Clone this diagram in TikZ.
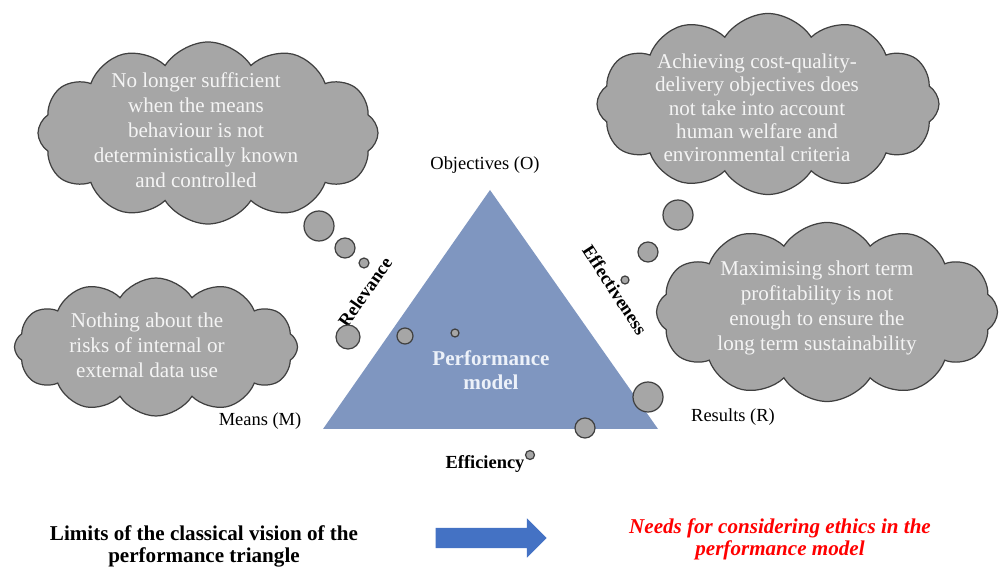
\documentclass[tikz,border=0pt]{standalone}
\usepackage{fontspec}
\setmainfont{Liberation Serif}
\usetikzlibrary{shapes.symbols,shapes.arrows}
\definecolor{cloudgray}{RGB}{166,166,166}
\definecolor{cloudline}{RGB}{64,64,64}
\definecolor{cloudtext}{RGB}{244,244,244}
\definecolor{perfblue}{RGB}{127,150,192}
\definecolor{perftext}{RGB}{236,241,249}
\definecolor{arrowblue}{RGB}{68,114,196}

\begin{document}
\begin{tikzpicture}[x = 0.2mm, y = -0.2mm, line width = 0.7pt,
    thought/.style = {cloud, cloud puffs = 12, cloud puff arc = 115, cloud ignores aspect,
                      draw = cloudline, fill = cloudgray, inner sep = 0pt},
    musing/.style = {text = cloudtext, align = center, font = \fontsize{12}{14.2}\selectfont},
    bubble/.style = {circle, draw = cloudline, fill = cloudgray, inner sep = 0pt},
    vertex/.style = {font = \fontsize{10.5}{12}\selectfont},
    side/.style = {font = \bfseries\fontsize{10.5}{12}\selectfont}]
  \useasboundingbox (0, 0) rectangle (1000, 567);

  \coordinate (o) at (490, 190);
  \coordinate (m) at (323, 429);
  \coordinate (r) at (658, 429);
  \fill [perfblue] (o) -- (m) -- (r) -- cycle;
  \node [text = perftext, align = center, font = \bfseries\fontsize{12}{13.6}\selectfont]
    (perf) at (491, 370) {Performance\\model};

  \node [vertex] (obj) at (485, 165) {Objectives (O)};
  \node [vertex] (means) at (260, 421) {Means (M)};
  \node [vertex] (res) at (733, 417) {Results (R)};
  \node [side] (eff) at (485, 464) {Efficiency};
  \node [side, rotate = 55] (rel) at (365, 292) {Relevance};
  \node [side, rotate = -57] (effc) at (615, 290) {Effectiveness};

  \node [thought, minimum width = 68mm, minimum height = 36.4mm] (c1) at (208, 133) {};
  \node [musing] (t1) at (196, 130)
    {No longer sufficient\\when the means\\behaviour is not\\deterministically known\\and controlled};
  \node [thought, minimum width = 56.6mm, minimum height = 27.6mm] (c2) at (156, 347) {};
  \node [musing] (t2) at (147, 345)
    {Nothing about the\\risks of internal or\\external data use};
  \node [thought, minimum width = 68.4mm, minimum height = 36.2mm] (c3) at (768, 104) {};
  \node [musing, font = \fontsize{12}{13.3}\selectfont] (t3) at (757, 108)
    {Achieving cost-quality-\\delivery objectives does\\not take into account\\human welfare and\\environmental criteria};
  \node [thought, minimum width = 68.2mm, minimum height = 35.8mm] (c4) at (827, 312) {};
  \node [musing] (t4) at (817, 308)
    {Maximising short term\\profitability is not\\enough to ensure the\\long term sustainability};

  \node [bubble, minimum size = 6mm] (b1) at (319, 226) {};
  \node [bubble, minimum size = 4mm] (b2) at (345, 248) {};
  \node [bubble, minimum size = 2mm] (b3) at (364, 263) {};
  \node [bubble, minimum size = 4.8mm] (b4) at (348, 337) {};
  \node [bubble, minimum size = 3.2mm] (b5) at (405, 336) {};
  \node [bubble, minimum size = 1.6mm] (b6) at (455, 333) {};
  \node [bubble, minimum size = 6mm] (b7) at (678, 215) {};
  \node [bubble, minimum size = 4mm] (b8) at (648, 252) {};
  \node [bubble, minimum size = 1.6mm] (b9) at (625, 280) {};
  \node [bubble, minimum size = 6mm] (b10) at (648, 397) {};
  \node [bubble, minimum size = 4mm] (b11) at (585, 428) {};
  \node [bubble, minimum size = 1.8mm] (b12) at (530, 455) {};

  \node [align = center, font = \bfseries\fontsize{12}{12.5}\selectfont]
    (limits) at (204, 546) {Limits of the classical vision of the\\performance triangle};
  \node [single arrow, fill = arrowblue, inner sep = 0pt, text height = 1.9mm, text depth = 1.9mm,
         minimum height = 22.2mm, minimum width = 7.6mm, single arrow head extend = 1.9mm]
    (go) at (486, 538) {};
  \node [align = center, text = red, font = \bfseries\itshape\fontsize{12}{12.5}\selectfont]
    (needs) at (780, 539) {Needs for considering ethics in the\\performance model};
\end{tikzpicture}
\end{document}
